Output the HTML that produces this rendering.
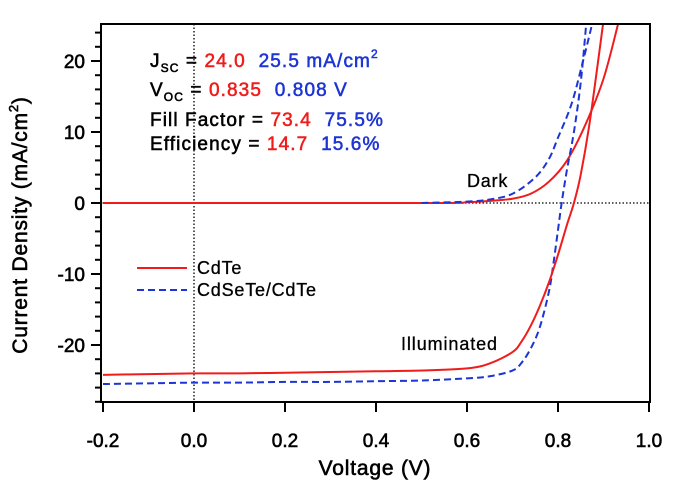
<!DOCTYPE html>
<html><head><meta charset="utf-8"><style>
body{margin:0;background:#fff;}
svg{display:block;font-family:"Liberation Sans",sans-serif;}
text{white-space:pre;}
.m{stroke-width:0.55;}
</style></head><body>
<svg id="chart" width="700" height="481" viewBox="0 0 700 481" xmlns="http://www.w3.org/2000/svg">
<g id="plot"></g>
</svg>
<script>
const xTicks=[-0.2,0.0,0.2,0.4,0.6,0.8,1.0];
const xTickLabels=["-0.2","0.0","0.2","0.4","0.6","0.8","1.0"];
const yTicks=[-20,-10,0,10,20];
const yTickLabels=["-20","-10","0","10","20"];
const cdteLightV=[-0.2,-0.1,0,0.1,0.2,0.3,0.4,0.5,0.6,0.65,0.7,0.72,0.74,0.76,0.78,0.8,0.82,0.835,0.85,0.87,0.899];
const cdteLightJ=[-24.2,-24.1,-24.0,-24.0,-23.9,-23.8,-23.7,-23.6,-23.3,-22.6,-21,-19.5,-17.3,-14.5,-11.2,-7.3,-3,0,4,11.5,25.2];
const cdseteLightV=[-0.2,-0.1,0,0.1,0.2,0.3,0.4,0.5,0.6,0.65,0.7,0.72,0.74,0.76,0.78,0.79,0.8,0.808,0.82,0.835,0.85,0.862];
const cdseteLightJ=[-25.5,-25.4,-25.3,-25.3,-25.2,-25.2,-25.1,-25.0,-24.7,-24.4,-23.6,-22.5,-20.5,-17.5,-12.5,-8.5,-3.8,0,4.8,10,17,25.2];
const cdteDarkV=[-0.2,0.5,0.6,0.65,0.7,0.74,0.78,0.82,0.86,0.9,0.932];
const cdteDarkJ=[0,0,0.1,0.3,0.6,1.3,3,6,11,17.5,25.2];
const cdseteDarkV=[0.5,0.6,0.65,0.7,0.75,0.78,0.8,0.83,0.855,0.875];
const cdseteDarkJ=[0,0.2,0.5,1.3,3.6,6.2,9.2,14,20,25.2];

const L=101,R=650,T=24,B=402;
const X=v=>194+(v)*455;
const Y=j=>203-j*7.1;
const NS="http://www.w3.org/2000/svg";
const g=document.getElementById('plot');
function mk(tag,attrs,parent){const e=document.createElementNS(NS,tag);for(const k in attrs)e.setAttribute(k,attrs[k]);(parent||g).appendChild(e);return e;}
function smooth(vs,js){
  const p=vs.map((v,i)=>[X(v),Y(js[i])]);
  let d="M"+p[0][0]+","+p[0][1];
  for(let i=0;i<p.length-1;i++){
    const p0=p[i-1]||p[i],p1=p[i],p2=p[i+1],p3=p[i+2]||p2;
    const c1=[p1[0]+(p2[0]-p0[0])/6,p1[1]+(p2[1]-p0[1])/6];
    const c2=[p2[0]-(p3[0]-p1[0])/6,p2[1]-(p3[1]-p1[1])/6];
    d+=" C"+c1[0]+","+c1[1]+" "+c2[0]+","+c2[1]+" "+p2[0]+","+p2[1];
  }
  return d;
}
const clip=mk('clipPath',{id:'cp'});mk('rect',{x:L,y:T,width:R-L,height:B-T},clip);
let e;
e=mk('line',{x1:X(0),y1:T,x2:X(0),y2:B,stroke:'#000','stroke-width':1.3,'stroke-dasharray':'1.5,2'});

e=mk('line',{x1:L,y1:Y(0),x2:R,y2:Y(0),stroke:'#000','stroke-width':1.3,'stroke-dasharray':'1.5,2'});

const RED='#f01c1c',BLUE='#1c35d4';
const series=[[cdteDarkV,cdteDarkJ,RED,null,'cdte-dark-curve'],[cdseteDarkV,cdseteDarkJ,BLUE,'7,4','cdsete-dark-curve'],[cdseteLightV,cdseteLightJ,BLUE,'7,4','cdsete-illuminated-curve'],[cdteLightV,cdteLightJ,RED,null,'cdte-illuminated-curve']];
series.forEach(s=>{
  const a={d:smooth(s[0],s[1]),fill:'none',stroke:s[2],'stroke-width':2,'clip-path':'url(#cp)'};
  if(s[3])a['stroke-dasharray']=s[3];
  const p=mk('path',a);
  
  
});
e=mk('rect',{x:L,y:T,width:R-L,height:B-T,fill:'none',stroke:'#000','stroke-width':2});

xTicks.forEach((v,i)=>{
  mk('line',{x1:X(v),y1:B,x2:X(v),y2:B+10,stroke:'#000','stroke-width':2});
  const t=mk('text',{x:X(v),y:447,'text-anchor':'middle','font-size':19,stroke:'#000','stroke-width':0.6});
  t.textContent=xTickLabels[i];
  
});
for(let j=-28;j<=24;j+=2){
  const major=j%10===0;
  mk('line',{x1:L,y1:Y(j),x2:L-(major?10:6),y2:Y(j),stroke:'#000','stroke-width':2});
}
yTicks.forEach((j,i)=>{
  const t=mk('text',{x:85,y:Y(j)+7,'text-anchor':'end','font-size':19,stroke:'#000','stroke-width':0.6});
  t.textContent=yTickLabels[i];
  
});
</script>
<svg style="position:absolute;left:0;top:0" width="700" height="481" font-family="Liberation Sans, sans-serif">
<text x="375" y="475" text-anchor="middle" font-size="21" letter-spacing="0.8" stroke="#000" stroke-width="0.6">Voltage (V)</text>
<text transform="translate(27,225) rotate(-90)" text-anchor="middle" font-size="21" letter-spacing="0.8" stroke="#000" stroke-width="0.6">Current Density (mA/cm<tspan dy="-9" font-size="13">2</tspan><tspan dy="9">)</tspan></text>
<g font-size="19" letter-spacing="1.1" class="m">
<text x="150" y="67" fill="#000" stroke="#000">J<tspan font-size="12" dy="5">SC</tspan><tspan dy="-5"> = </tspan><tspan fill="#f01c1c" stroke="#f01c1c">24.0</tspan><tspan fill="#1c35d4" stroke="#1c35d4">  25.5 mA/cm</tspan><tspan fill="#1c35d4" stroke="#1c35d4" font-size="12" dy="-9">2</tspan></text>
<text x="150" y="96" fill="#000" stroke="#000">V<tspan font-size="12" dy="5">OC</tspan><tspan dy="-5"> = </tspan><tspan fill="#f01c1c" stroke="#f01c1c">0.835</tspan><tspan fill="#1c35d4" stroke="#1c35d4">  0.808 V</tspan></text>
<text x="150" y="126" fill="#000" stroke="#000">Fill Factor = <tspan fill="#f01c1c" stroke="#f01c1c">73.4</tspan><tspan fill="#1c35d4" stroke="#1c35d4">  75.5%</tspan></text>
<text x="150" y="150" fill="#000" stroke="#000">Efficiency = <tspan fill="#f01c1c" stroke="#f01c1c">14.7</tspan><tspan fill="#1c35d4" stroke="#1c35d4">  15.6%</tspan></text>
</g>
<text x="467" y="187" font-size="18" letter-spacing="0.8" stroke="#000" stroke-width="0.3">Dark</text>
<text x="401" y="350" font-size="18" letter-spacing="0.9" stroke="#000" stroke-width="0.3">Illuminated</text>
<g>
<line x1="137" y1="268" x2="187" y2="268" stroke="#f01c1c" stroke-width="2"/>
<text x="197" y="274" font-size="18" letter-spacing="0.8" stroke="#000" stroke-width="0.3">CdTe</text>
<line x1="137" y1="290" x2="187" y2="290" stroke="#1c35d4" stroke-width="2" stroke-dasharray="7,4"/>
<text x="197" y="296" font-size="18" letter-spacing="0.8" stroke="#000" stroke-width="0.3">CdSeTe/CdTe</text>
</g>
</svg>
</body></html>
